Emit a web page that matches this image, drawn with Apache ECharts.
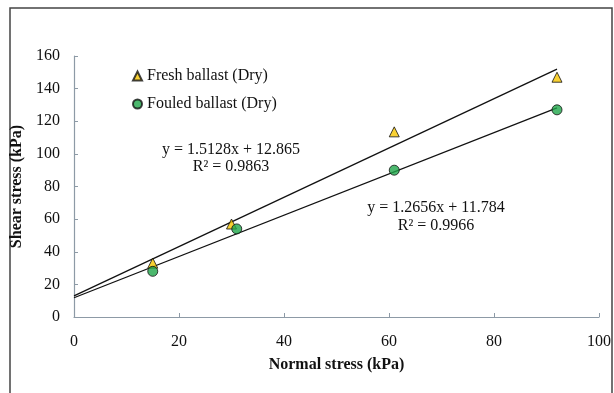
<!DOCTYPE html>
<html>
<head>
<meta charset="utf-8">
<style>
  html, body { margin: 0; padding: 0; background: #fff; }
  #chart { width: 614px; height: 393px; }
</style>
<script src="https://cdn.jsdelivr.net/npm/echarts@6/dist/echarts.min.js"></script>
</head>
<body>
<div id="chart"></div>
<script>
// points
var freshX = [15, 30, 61, 92];
var freshY = [33, 57, 113.5, 147];
var fouledX = [15, 31, 61, 92];
var fouledY = [28, 54, 90, 127];
// trend line ends (x = 0 and x = 92)
var freshTrend = [[0, 12.9], [92, 152.0]];
var fouledTrend = [[0, 11.8], [92, 128.2]];
var xTicks = [0, 20, 40, 60, 80, 100];
var yTicks = [0, 20, 40, 60, 80, 100, 120, 140, 160];

var serif = '"Liberation Serif", "Times New Roman", serif';
var axisColor = '#8d9aa6';

function pairs(xs, ys) {
  return xs.map(function (x, i) { return [x, ys[i]]; });
}

var chart = echarts.init(document.getElementById('chart'));
chart.setOption({
  animation: false,
  backgroundColor: '#fff',
  grid: { left: 74, right: 15, top: 56, bottom: 76 },
  legend: {
    orient: 'vertical',
    left: 127,
    top: 63,
    itemWidth: 9,
    itemHeight: 9,
    itemGap: 12,
    textStyle: { fontFamily: serif, fontSize: 16, color: '#111' },
    data: [
      { name: 'Fresh ballast (Dry)', icon: 'triangle' },
      { name: 'Fouled ballast (Dry)', icon: 'circle' }
    ]
  },
  xAxis: {
    type: 'value',
    min: xTicks[0],
    max: xTicks[xTicks.length - 1],
    interval: 20,
    name: 'Normal stress (kPa)',
    nameLocation: 'middle',
    nameGap: 40,
    nameTextStyle: { fontFamily: serif, fontSize: 16, fontWeight: 'bold', color: '#111' },
    axisLine: { lineStyle: { color: axisColor, width: 1.2 } },
    axisTick: { inside: true, length: 4, lineStyle: { color: axisColor } },
    axisLabel: { margin: 17, fontFamily: serif, fontSize: 16, color: '#111' },
    splitLine: { show: false }
  },
  yAxis: {
    type: 'value',
    min: yTicks[0],
    max: yTicks[yTicks.length - 1],
    interval: 20,
    name: 'Shear stress (kPa)',
    nameLocation: 'middle',
    nameGap: 43,
    nameTextStyle: { fontFamily: serif, fontSize: 16, fontWeight: 'bold', color: '#111' },
    axisLine: { show: true, lineStyle: { color: axisColor, width: 1.2 } },
    axisTick: { show: true, inside: true, length: 4, lineStyle: { color: axisColor } },
    axisLabel: { margin: 14, fontFamily: serif, fontSize: 16, color: '#111' },
    splitLine: { show: false }
  },
  series: [
    {
      name: 'fresh trend',
      type: 'line',
      data: freshTrend,
      showSymbol: false,
      lineStyle: { color: '#111', width: 1.3 },
      z: 2
    },
    {
      name: 'fouled trend',
      type: 'line',
      data: fouledTrend,
      showSymbol: false,
      lineStyle: { color: '#111', width: 1.3 },
      z: 2
    },
    {
      name: 'Fresh ballast (Dry)',
      type: 'scatter',
      symbol: 'triangle',
      symbolSize: 10,
      data: pairs(freshX, freshY),
      itemStyle: { color: '#f7c600', borderColor: '#111', borderWidth: 1 },
      z: 3
    },
    {
      name: 'Fouled ballast (Dry)',
      type: 'scatter',
      symbol: 'circle',
      symbolSize: 10,
      data: pairs(fouledX, fouledY),
      itemStyle: { color: '#1fa64a', borderColor: '#111', borderWidth: 1 },
      z: 3
    }
  ],
  graphic: [
    {
      type: 'rect',
      shape: { x: 10, y: 8, width: 602, height: 400 },
      style: { fill: 'none', stroke: '#444', lineWidth: 1.5 },
      silent: true
    },
    {
      type: 'text', x: 231, y: 150,
      style: { text: 'y = 1.5128x + 12.865', font: '16px ' + serif, fill: '#111', align: 'center', verticalAlign: 'middle' }
    },
    {
      type: 'text', x: 231, y: 167,
      style: { text: 'R² = 0.9863', font: '16px ' + serif, fill: '#111', align: 'center', verticalAlign: 'middle' }
    },
    {
      type: 'text', x: 436, y: 208,
      style: { text: 'y = 1.2656x + 11.784', font: '16px ' + serif, fill: '#111', align: 'center', verticalAlign: 'middle' }
    },
    {
      type: 'text', x: 436, y: 226,
      style: { text: 'R² = 0.9966', font: '16px ' + serif, fill: '#111', align: 'center', verticalAlign: 'middle' }
    }
  ]
});
</script>
</body>
</html>
